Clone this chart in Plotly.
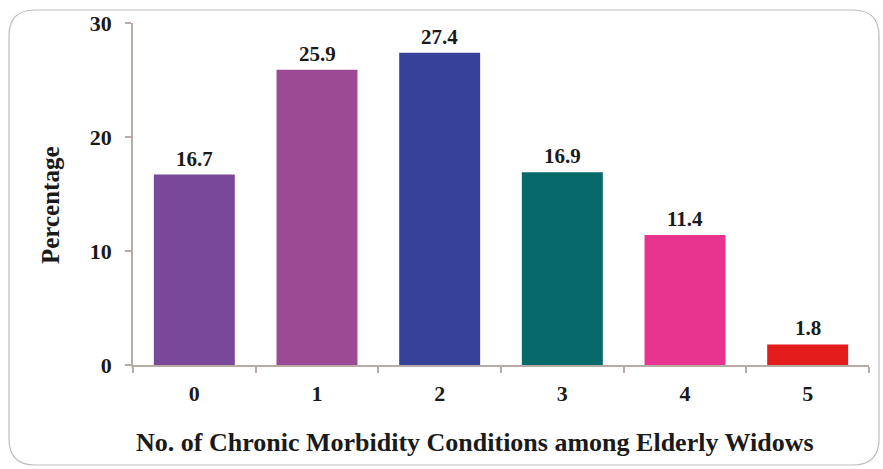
import plotly.graph_objects as go

# Share of elderly widows by number of chronic morbidity conditions
conditions = ["0", "1", "2", "3", "4", "5"]
percentages = [16.7, 25.9, 27.4, 16.9, 11.4, 1.8]
bar_colors = ["#7a4899", "#9c4a93", "#36429a", "#066a6a", "#e8348e", "#e41c1c"]
y_ticks = [0, 10, 20, 30]

W, H = 883, 469
ML, MR, MT, MB = 133, 14, 23, 104
PW, PH = W - ML - MR, H - MT - MB

def px_x(p):
    return (p - ML) / PW

def px_y(p):
    return (H - MB - p) / PH

font_family = "Liberation Serif"
text_color = "#1a1a1a"

fig = go.Figure()
fig.add_trace(go.Bar(
    x=conditions,
    y=percentages,
    marker=dict(color=bar_colors, line=dict(width=0)),
    width=0.66,
    hoverinfo="x+y",
))

# value labels above bars
for c, v in zip(conditions, percentages):
    fig.add_annotation(
        x=c, y=v, text=str(v), showarrow=False,
        xanchor="center", yanchor="bottom", yshift=2,
        font=dict(family=font_family, size=21, color=text_color, weight="bold"),
    )

# axis titles
fig.add_annotation(
    x=px_x(50), y=px_y(205), xref="paper", yref="paper",
    xanchor="center", yanchor="middle",
    text="Percentage", textangle=-90, showarrow=False,
    font=dict(family=font_family, size=25, color=text_color, weight="bold"),
)
fig.add_annotation(
    x=px_x(475), y=px_y(442), xref="paper", yref="paper",
    xanchor="center", yanchor="middle",
    text="No. of Chronic Morbidity Conditions among Elderly Widows",
    showarrow=False,
    font=dict(family=font_family, size=26, color=text_color, weight="bold"),
)

# rounded frame around the chart
x0, x1, y0, y1 = px_x(9), px_x(879), px_y(10), px_y(465)
rx, ry = 26 / PW, 26 / PH
path = (
    f"M {x0},{y0 - ry} "
    f"Q {x0},{y0} {x0 + rx},{y0} "
    f"L {x1 - rx},{y0} "
    f"Q {x1},{y0} {x1},{y0 - ry} "
    f"L {x1},{y1 + ry} "
    f"Q {x1},{y1} {x1 - rx},{y1} "
    f"L {x0 + rx},{y1} "
    f"Q {x0},{y1} {x0},{y1 + ry} Z"
)
fig.add_shape(type="path", path=path, xref="paper", yref="paper",
              line=dict(color="#bdbdbd", width=1.2), layer="below")

axis_color = "#b8aaa4"
tick_font = dict(family=font_family, size=22, color=text_color, weight="bold")
fig.update_layout(
    width=W, height=H,
    margin=dict(l=ML, r=MR, t=MT, b=MB, pad=0),
    paper_bgcolor="white", plot_bgcolor="white",
    showlegend=False,
    xaxis=dict(
        type="category",
        showline=True, linecolor=axis_color, linewidth=1.5,
        ticks="outside", tickson="boundaries", ticklen=6, tickcolor=axis_color,
        tickwidth=1.5, showgrid=False, zeroline=False,
        tickfont=tick_font,
        ticklabelstandoff=8,
    ),
    yaxis=dict(
        range=[0, 30], tickvals=y_ticks,
        showline=True, linecolor=axis_color, linewidth=1.5,
        ticks="outside", ticklen=6, tickcolor=axis_color, tickwidth=1.5,
        showgrid=False, zeroline=False,
        tickfont=tick_font,
        ticklabelstandoff=9,
    ),
)

fig.write_html("out.html")
